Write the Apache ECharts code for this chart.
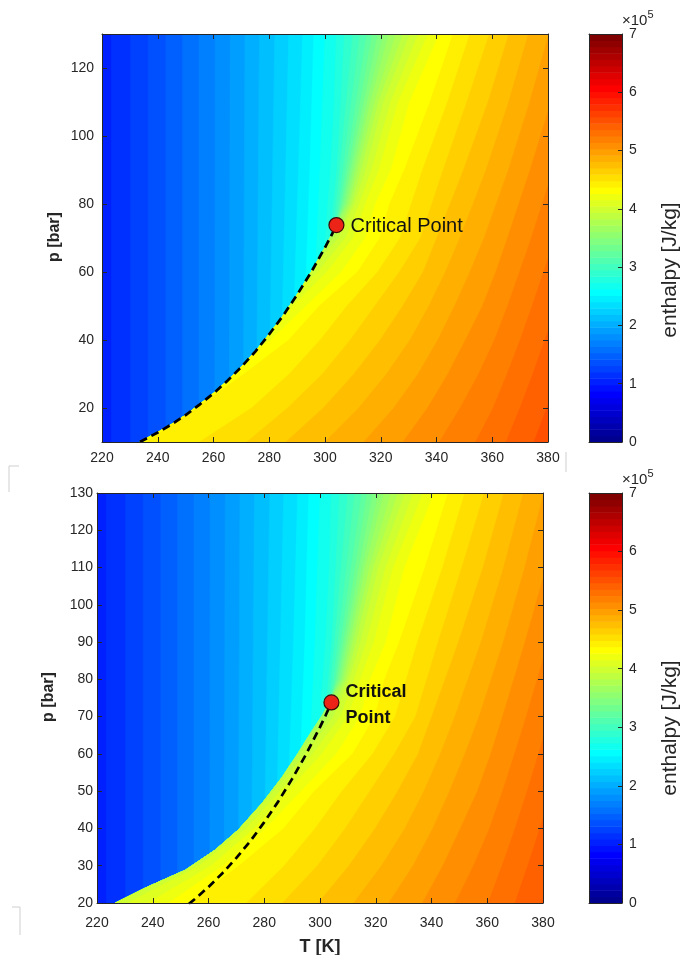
<!DOCTYPE html>
<html><head><meta charset="utf-8">
<script src="https://cdn.jsdelivr.net/npm/echarts@6/dist/echarts.min.js"></script>
<style>html,body{margin:0;padding:0;background:#fff}#c{width:683px;height:955px}</style>
</head><body><div id="c"></div>
<script>
// ---------------- data ----------------
const tempTicks = [220,240,260,280,300,320,340,360,380];
const pTicksTop = [20,40,60,80,100,120];
const pTicksBottom = [20,30,40,50,60,70,80,90,100,110,120,130];
const cbTicks = [0,1,2,3,4,5,6,7];

// enthalpy contour levels (kJ/kg), one per colour step of the map
const levels = [109.4,120.3,131.3,142.2,153.1,164.1,175.0,185.9,196.9,207.8,218.8,229.7,240.6,251.6,262.5,273.4,284.4,295.3,306.3,317.2,328.1,339.1,350.0,360.9,371.9,382.8,393.8,404.7,415.6,426.6,437.5,448.4,459.4,470.3,481.3,492.2,503.1,514.1,525.0,535.9,546.9];

// saturation curve (T [K], p [bar])
const satT = [233.6,240,245,250,255,260,265,270,275,280,285,290,295,300,302,304.1];
const satP = [10,12.8,15.2,17.9,21.0,24.3,28.0,32.1,36.6,41.7,47.2,53.3,59.9,67.2,70.3,73.8];
// liquid/vapour boundary found in the lower map
const edgeT = [226.6,237.3,251.7,262.4,270.7,279.3,286.5,292,297,301,303.7];
const edgeP = [20,24,28.8,34.2,39.6,46.8,53.8,60,66,70.5,73.7];
const critT = 304.1, critP = 73.8;

// isenthalp lines, upper map: [T, p] points from bottom to top
const topFrom = ['','','sat','sat','sat','sat','sat','sat','sat','sat','sat','sat','sat','sat','sat','sat','sat','sat','sat','sat','sat','sat','sat','sat','sat','sat','sat','sat','sat','sat','','','','','','','','','','',''];
const topIso = [
 [[223.4,10],[223.4,130]],
 [[230.2,10],[230.2,130]],
 [[236.6,11.3],[236.6,130]],
 [[242.9,14.1],[242.9,130]],
 [[248.9,17.3],[248.9,130]],
 [[254.8,20.8],[254.8,130]],
 [[260.5,24.6],[260.6,130]],
 [[265.7,28.5],[266,130]],
 [[270.8,32.8],[271.3,130]],
 [[275.6,37.2],[276.5,130]],
 [[280.3,42.0],[282,130]],
 [[284.7,47.0],[287,130]],
 [[289,52.2],[290.5,90],[292,130]],
 [[293.2,57.5],[294.6,90],[296,130]],
 [[296.7,62.3],[298.2,90],[300,130]],
 [[300,67.2],[301,80],[302,90],[303.3,110],[304,130]],
 [[302.1,70.4],[303,80],[304.3,90],[305.7,110],[307,130]],
 [[303.2,72.2],[304,80],[305.3,90],[307.6,110],[310,130]],
 [[303.7,73.1],[305,80],[306.5,90],[309.5,110],[312.5,130]],
 [[303.9,73.5],[305.6,80],[307.5,90],[311.2,110],[315,130]],
 [[304.1,73.8],[306.2,80],[308.4,90],[312.7,110],[317,130]],
 [[304.1,73.8],[306.8,80],[309.2,90],[314,110],[319,130]],
 [[303.6,73.0],[307.5,80],[310,90],[315.2,110],[321,130]],
 [[303.1,72.2],[308.2,80],[310.9,90],[316.3,110],[323,130]],
 [[302.1,70.5],[305.5,74],[308.9,80],[311.8,90],[317.8,110],[325.5,130]],
 [[300.2,67.8],[303.1,70],[306.3,74],[309.7,80],[313,90],[319.2,110],[328,130]],
 [[296.8,62.6],[304.9,70],[310.6,80],[314.6,90],[321,110],[330.5,130]],
 [[291.9,55.9],[297.4,60],[307.4,70],[312.3,80],[316.7,90],[323.6,110],[333.5,130]],
 [[284.9,47.0],[288.4,50],[300.7,60],[310.2,70],[314.5,80],[319.4,90],[326.3,110],[337,130]],
 [[275.8,37.1],[280.5,40],[293.3,50],[305.9,60],[314.5,70],[318.1,80],[323.7,90],[330.4,110],[341,130]],
 [[236,10],[254,20],[271,30],[287,40],[298,50],[311.7,60],[319.7,70],[323.2,80],[328.5,90],[337.7,110],[346,130]],
 [[255,10],[273.7,20],[287.2,30],[298.3,40],[307.9,50],[318.9,60],[327,70],[331,80],[335,90],[344,110],[352,130]],
 [[272,10],[286.6,20],[299.1,30],[309.1,40],[317.9,50],[326.7,60],[334.3,70],[342.4,90],[350.9,110],[359,130]],
 [[286,10],[299.4,20],[310.4,30],[319.8,40],[327.9,50],[335.2,60],[340.1,70],[349.7,90],[358.5,110],[366,130]],
 [[300,10],[312.1,20],[322.1,30],[330.5,40],[337.3,50],[343.2,60],[348.4,70],[357.8,90],[365.9,110],[373,130]],
 [[314,10],[324.7,20],[333.4,30],[340.5,40],[346.5,50],[352,60],[357.1,70],[365.8,90],[373.5,110],[380,129]],
 [[328,10],[336.8,20],[344.1,30],[350.4,40],[356.5,50],[361.3,60],[365.5,70],[373.6,90],[380,106.9]],
 [[341,10],[348.5,20],[355.1,30],[360.8,40],[365.5,50],[369.8,60],[374,70],[380,85.3]],
 [[354,10],[360.3,20],[365.3,30],[370,40],[374.3,50],[378.4,60],[380,63.9]],
 [[365,10],[370,20],[374.6,30],[378.9,40],[380,42.5]],
 [[375,10],[379.6,20],[380,21]]
];

// isenthalp lines, lower map (levels 109.4 ... 437.5; higher levels as in the upper map)
const botFrom = ['','edge','edge','edge','edge','edge','edge','edge','edge','edge','edge','edge','edge','edge','edge','edge','edge','edge','edge','edge','edge','edge','edge','edge','edge','edge','edge','','','',''];
const botIso = [
 [[223.4,20],[223.4,130]],
 [[230.2,21.3],[230.2,130]],
 [[236.6,23.7],[236.6,130]],
 [[242.9,25.9],[242.9,130]],
 [[248.9,27.9],[248.9,130]],
 [[254.8,30.4],[254.8,130]],
 [[260.5,33.2],[260.6,130]],
 [[265.7,36.3],[266,130]],
 [[270.8,39.7],[271.3,130]],
 [[275.6,43.7],[276.5,130]],
 [[280.3,47.8],[282,130]],
 [[284.7,52.0],[287,130]],
 [[289,56.6],[290.5,90],[292,130]],
 [[293.2,61.4],[294.6,90],[296,130]],
 [[296.7,65.6],[298.2,90],[300,130]],
 [[300,69.4],[301,80],[302,90],[303.3,110],[304,130]],
 [[302.1,71.8],[303,80],[304.3,90],[305.7,110],[307,130]],
 [[303.2,73.1],[304,80],[305.3,90],[307.6,110],[310,130]],
 [[303.5,73.5],[305,80],[306.5,90],[309.5,110],[312.5,130]],
 [[303.7,73.7],[305.6,80],[307.5,90],[311.2,110],[315,130]],
 [[303.7,73.7],[306.2,80],[308.4,90],[312.7,110],[317,130]],
 [[302.6,72.6],[306.8,80],[309.2,90],[314,110],[319,130]],
 [[301.5,71.2],[307.5,80],[310,90],[315.2,110],[321,130]],
 [[300.1,69.5],[308.2,80],[310.9,90],[316.3,110],[323,130]],
 [[295.3,64],[301.7,70],[308.9,80],[311.8,90],[317.8,110],[325.5,130]],
 [[289.3,57],[292.5,60],[303.1,70],[309.7,80],[313,90],[319.2,110],[328,130]],
 [[275.4,43.5],[283.4,50],[294.7,60],[304.9,70],[310.6,80],[314.6,90],[321,110],[330.5,130]],
 [[231.1,20],[256.7,30],[273.6,40],[285.7,50],[297.4,60],[307.4,70],[312.3,80],[316.7,90],[323.6,110],[333.5,130]],
 [[238.4,20],[261,30],[276.4,40],[288.4,50],[300.7,60],[310.2,70],[314.5,80],[319.4,90],[326.3,110],[337,130]],
 [[245.8,20],[265.3,30],[280.5,40],[293.3,50],[305.9,60],[314.5,70],[318.1,80],[323.7,90],[330.4,110],[341,130]],
 [[253.2,20],[271,30],[287,40],[298,50],[311.7,60],[319.7,70],[323.2,80],[328.5,90],[337.7,110],[346,130]]
];

// ---------------- colour map (MATLAB jet, 64 steps, 0..7e5 J/kg) ----------------
const STEP = 700 / 64;
function jetRow(r) {
  const u = j => (j < 1 || j > 47) ? 0 : (j <= 16 ? j / 16 : (j <= 31 ? 1 : (48 - j) / 16));
  return [u(r - 24), u(r - 8), u(r + 8)];
}
function rowColor(r) {
  const c = jetRow(r);
  return 'rgb(' + c.map(v => Math.round(v * 255)).join(',') + ')';
}
function levelRow(h) { return Math.round(h / STEP) + 1; }

function buildPolys(isoList, fromList, lvls, bT, bP, pmin, pmax) {
  const polys = [{ pts: [[220, pmin], [220, pmax], [380, pmax], [380, pmin]], color: rowColor(levelRow(lvls[0]) - 1) }];
  isoList.forEach((iso, i) => {
    let pts = [];
    if (fromList[i]) {
      const B = fromList[i] === 'sat' ? [satT, satP] : [bT, bP];
      for (let j = 0; j < B[0].length; j++) if (B[1][j] < iso[0][1] - 0.05) pts.push([B[0][j], B[1][j]]);
    }
    pts = pts.concat(iso);
    const first = pts[0], last = pts[pts.length - 1];
    pts.push([380, last[1]], [380, first[1]]);
    polys.push({ pts, color: rowColor(levelRow(lvls[i])) });
  });
  return polys;
}

const topPolys = buildPolys(topIso, topFrom, levels, satT, satP, 10, 130);
const botPolys = buildPolys(botIso.concat(topIso.slice(botIso.length)), botFrom.concat(topFrom.slice(botIso.length)), levels, edgeT, edgeP, 20, 130);

function contourSeries(polys, gi) {
  return {
    type: 'custom', xAxisIndex: gi * 2, yAxisIndex: gi * 2, clip: true, silent: true, z: 2,
    data: polys.map(pl => pl.pts[pl.pts.length - 3]),
    renderItem: (params, api) => {
      const pl = polys[params.dataIndex];
      return { type: 'polygon', shape: { points: pl.pts.map(p => api.coord(p)) },
        style: { fill: pl.color, stroke: pl.color, lineWidth: 0.6 } };
    }
  };
}

function colorbarSeries(ci) {
  const rows = [];
  for (let k = 0; k < 64; k++) rows.push([0.5, (k + 0.5) * 7 / 64]);
  return {
    type: 'custom', xAxisIndex: 4 + ci * 2, yAxisIndex: 4 + ci * 2, silent: true, z: 2,
    data: rows,
    renderItem: (params, api) => {
      const k = params.dataIndex;
      const a = api.coord([0, k * 7 / 64]), b = api.coord([1, (k + 1) * 7 / 64]);
      return { type: 'rect', shape: { x: a[0], y: b[1], width: b[0] - a[0], height: a[1] - b[1] + 0.6 },
        style: { fill: rowColor(k + 1) } };
    }
  };
}

const FONT = '"Liberation Sans", Arial, Helvetica, sans-serif';
const AX = '#262626';
function xAx(grid, pos, show, margin) {
  return { type: 'value', gridIndex: grid, position: pos, min: 220, max: 380, interval: 20, z: 10,
    axisLine: { show: true, onZero: false, lineStyle: { color: AX, width: 1 } },
    axisTick: { show: true, inside: true, length: 5, lineStyle: { color: AX }, customValues: tempTicks },
    axisLabel: { show: show, color: AX, fontSize: 14, fontFamily: FONT, margin: margin, customValues: tempTicks },
    splitLine: { show: false } };
}
function yAx(grid, pos, min, max, ticks, show, margin) {
  return { type: 'value', gridIndex: grid, position: pos, min: min, max: max, interval: 10, z: 10,
    axisLine: { show: true, onZero: false, lineStyle: { color: AX, width: 1 } },
    axisTick: { show: true, inside: true, length: 5, lineStyle: { color: AX }, customValues: ticks },
    axisLabel: { show: show, color: AX, fontSize: 14, fontFamily: FONT, margin: margin, customValues: ticks },
    splitLine: { show: false } };
}
function cbX(grid, pos) {
  return { type: 'value', gridIndex: grid, position: pos, min: 0, max: 1, z: 10,
    axisLine: { show: true, onZero: false, lineStyle: { color: AX } }, axisTick: { show: false },
    axisLabel: { show: false }, splitLine: { show: false } };
}
function cbY(grid, pos, show) {
  return { type: 'value', gridIndex: grid, position: pos, min: 0, max: 7, interval: 1, z: 10,
    axisLine: { show: true, onZero: false, lineStyle: { color: AX } },
    axisTick: { show: show, inside: true, length: 4, lineStyle: { color: AX }, customValues: cbTicks },
    axisLabel: { show: show, color: AX, fontSize: 14, fontFamily: FONT, margin: 7, customValues: cbTicks },
    splitLine: { show: false } };
}

const satLine = satT.map((t, i) => [t, satP[i]]);
function dashSeries(gi) {
  return { type: 'line', xAxisIndex: gi * 2, yAxisIndex: gi * 2, data: satLine, symbol: 'none', clip: true, z: 5,
    silent: true, lineStyle: { color: '#000', width: 2.7, type: [8, 5] } };
}
function critSeries(gi, text, size, weight, lh, off) {
  return { type: 'scatter', xAxisIndex: gi * 2, yAxisIndex: gi * 2, data: [[critT, critP]], symbol: 'circle',
    symbolSize: 15, z: 6, silent: true,
    itemStyle: { color: '#ec2418', borderColor: '#3a0905', borderWidth: 1.2, opacity: 1 },
    label: { show: true, position: 'right', distance: 6, formatter: text, color: '#111', fontSize: size,
      fontWeight: weight, fontFamily: FONT, lineHeight: lh, align: 'left', offset: off } };
}

const chart = echarts.init(document.getElementById('c'), null, { renderer: 'canvas' });
chart.setOption({
  animation: false,
  backgroundColor: '#fff',
  grid: [
    { left: 102, top: 34, width: 446, height: 408 },
    { left: 97, top: 493, width: 446, height: 410 },
    { left: 589, top: 34, width: 33, height: 408 },
    { left: 589, top: 493, width: 33, height: 410 }
  ],
  xAxis: [xAx(0, 'bottom', true, 9), xAx(0, 'top', false, 8), xAx(1, 'bottom', true, 13), xAx(1, 'top', false, 8),
          cbX(2, 'bottom'), cbX(2, 'top'), cbX(3, 'bottom'), cbX(3, 'top')],
  yAxis: [yAx(0, 'left', 10, 130, pTicksTop, true, 8), yAx(0, 'right', 10, 130, pTicksTop, false, 8),
          yAx(1, 'left', 20, 130, pTicksBottom, true, 4), yAx(1, 'right', 20, 130, pTicksBottom, false, 4),
          cbY(2, 'right', true), cbY(2, 'left', false), cbY(3, 'right', true), cbY(3, 'left', false)],
  series: [
    contourSeries(topPolys, 0), contourSeries(botPolys, 1),
    colorbarSeries(0), colorbarSeries(1),
    dashSeries(0), dashSeries(1),
    critSeries(0, 'Critical Point', 20, 'normal', 22, [0, 1]), critSeries(1, 'Critical\nPoint', 18, 'bold', 26, [0, 3])
  ],
  graphic: [
    { type: 'text', x: 55, y: 237, rotation: Math.PI / 2, style: { text: 'p [bar]', font: 'bold 16px ' + FONT, fill: AX, align: 'center', verticalAlign: 'middle' } },
    { type: 'text', x: 49, y: 697, rotation: Math.PI / 2, style: { text: 'p [bar]', font: 'bold 16px ' + FONT, fill: AX, align: 'center', verticalAlign: 'middle' } },
    { type: 'text', x: 320, y: 947, style: { text: 'T [K]', font: 'bold 18px ' + FONT, fill: AX, align: 'center', verticalAlign: 'middle' } },
    { type: 'text', x: 670, y: 270, rotation: Math.PI / 2, style: { text: 'enthalpy [J/kg]', font: '21px ' + FONT, fill: AX, align: 'center', verticalAlign: 'middle' } },
    { type: 'text', x: 670, y: 728, rotation: Math.PI / 2, style: { text: 'enthalpy [J/kg]', font: '21px ' + FONT, fill: AX, align: 'center', verticalAlign: 'middle' } },
    { type: 'text', x: 622, y: 21, style: { text: '×10{s|5}', font: '15px ' + FONT, fill: AX, verticalAlign: 'middle', rich: { s: { fontSize: 11, verticalAlign: 'bottom', padding: [0, 0, 12, 0], fill: AX } } } },
    { type: 'text', x: 622, y: 480, style: { text: '×10{s|5}', font: '15px ' + FONT, fill: AX, verticalAlign: 'middle', rich: { s: { fontSize: 11, verticalAlign: 'bottom', padding: [0, 0, 12, 0], fill: AX } } } },
    { type: 'line', shape: { x1: 566, y1: 452, x2: 566, y2: 472 }, style: { stroke: '#cfcfcf', lineWidth: 1 } },
    { type: 'polyline', shape: { points: [[19, 466], [9, 466], [9, 492]] }, style: { stroke: '#cfcfcf', lineWidth: 1, fill: null } },
    { type: 'polyline', shape: { points: [[12, 907], [20, 907], [20, 935]] }, style: { stroke: '#cfcfcf', lineWidth: 1, fill: null } }
  ]
});
</script></body></html>
